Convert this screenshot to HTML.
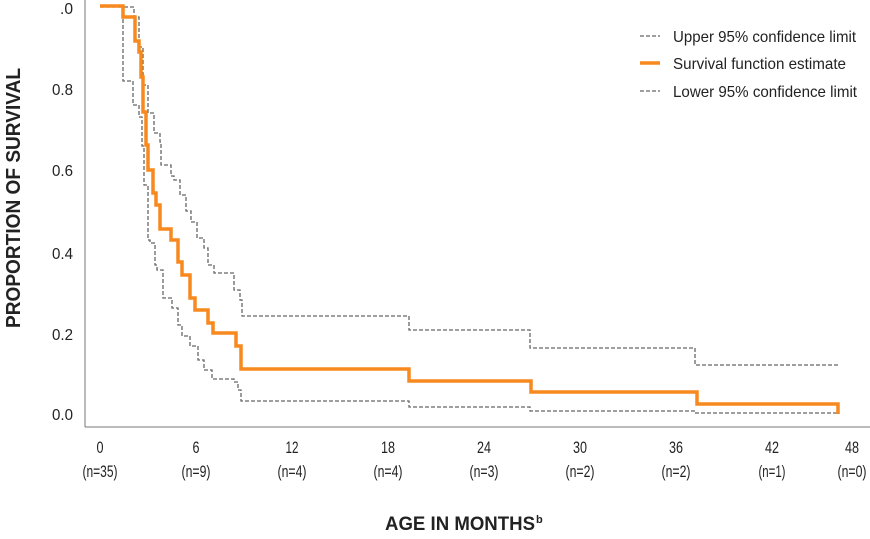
<!DOCTYPE html>
<html><head><meta charset="utf-8"><style>
html,body{margin:0;padding:0;background:#fff;}
svg text{font-family:"Liberation Sans Narrow","Liberation Sans",sans-serif;fill:#222;}
</style></head><body>
<svg width="870" height="534" viewBox="0 0 870 534" xmlns="http://www.w3.org/2000/svg">
<line x1="85" y1="0" x2="85" y2="427" stroke="#777" stroke-width="1"/>
<line x1="85" y1="427" x2="870" y2="427" stroke="#777" stroke-width="1"/>
<g font-size="16" text-anchor="end">
<text x="73" y="14" textLength="13" lengthAdjust="spacingAndGlyphs">.0</text>
<text x="73" y="95" textLength="21" lengthAdjust="spacingAndGlyphs">0.8</text>
<text x="73" y="176" textLength="21" lengthAdjust="spacingAndGlyphs">0.6</text>
<text x="73" y="259" textLength="21" lengthAdjust="spacingAndGlyphs">0.4</text>
<text x="73" y="340" textLength="21" lengthAdjust="spacingAndGlyphs">0.2</text>
<text x="73" y="420" textLength="21" lengthAdjust="spacingAndGlyphs">0.0</text>
</g>
<g font-size="17" text-anchor="middle">
<text x="100" y="453" textLength="7" lengthAdjust="spacingAndGlyphs">0</text><text x="100" y="477" textLength="35" lengthAdjust="spacingAndGlyphs">(n=35)</text>
<text x="196" y="453" textLength="7" lengthAdjust="spacingAndGlyphs">6</text><text x="196" y="477" textLength="29" lengthAdjust="spacingAndGlyphs">(n=9)</text>
<text x="292" y="453" textLength="13" lengthAdjust="spacingAndGlyphs">12</text><text x="292" y="477" textLength="29" lengthAdjust="spacingAndGlyphs">(n=4)</text>
<text x="388" y="453" textLength="14" lengthAdjust="spacingAndGlyphs">18</text><text x="388" y="477" textLength="29" lengthAdjust="spacingAndGlyphs">(n=4)</text>
<text x="484" y="453" textLength="14" lengthAdjust="spacingAndGlyphs">24</text><text x="484" y="477" textLength="29" lengthAdjust="spacingAndGlyphs">(n=3)</text>
<text x="580" y="453" textLength="14" lengthAdjust="spacingAndGlyphs">30</text><text x="580" y="477" textLength="29" lengthAdjust="spacingAndGlyphs">(n=2)</text>
<text x="676" y="453" textLength="14" lengthAdjust="spacingAndGlyphs">36</text><text x="676" y="477" textLength="29" lengthAdjust="spacingAndGlyphs">(n=2)</text>
<text x="772" y="453" textLength="14" lengthAdjust="spacingAndGlyphs">42</text><text x="772" y="477" textLength="27" lengthAdjust="spacingAndGlyphs">(n=1)</text>
<text x="852" y="453" textLength="14" lengthAdjust="spacingAndGlyphs">48</text><text x="852" y="477" textLength="29" lengthAdjust="spacingAndGlyphs">(n=0)</text>
</g>
<text x="460" y="530" font-size="19" font-weight="bold" text-anchor="middle" textLength="150" lengthAdjust="spacingAndGlyphs">AGE IN MONTHS</text>
<text x="536" y="523" font-size="11" font-weight="bold">b</text>
<text transform="translate(20,198) rotate(-90)" font-size="20" font-weight="bold" text-anchor="middle" textLength="260" lengthAdjust="spacingAndGlyphs">PROPORTION OF SURVIVAL</text>
<g fill="none" stroke="#666" stroke-width="1.3" stroke-dasharray="4,2">
<path d="M100,7 H134 V17 H139 V47 H143 V85 H148 V113 H154 V133 H160 V142 H161 V165 H171 V176 H174 V180 H180 V195 H186 V211 H191 V222 H197 V238 H204 V248 H208 V265 H214 V273 H234 V290 H240 V300 H242 V316 H409 V330 H530 V348 H695 V365 H838"/>
<path d="M123,7 V81 H133 V105 H139 V117 H142 V146 H144 V185 H148 V240 H150 V243 H155 V265 H157 V270 H163 V298 H172 V308 H178 V325 H182 V336 H190 V346 H198 V360 H204 V370 H212 V379 H234 V382 H238 V390 H241 V401 H409 V407 H530 V411 H695 V413 H838"/>
</g>
<path fill="none" stroke="#f7891f" stroke-width="3.5" d="M100,6 H123 V17 H135 V41 H139 V52 H141 V77 H143 V112 H146 V145 H148 V170 H153 V193 H156 V205 H160 V229 H171 V240 H178 V262 H182 V275 H190 V298 H195 V310 H208 V323 H213 V333 H236 V346 H241 V369 H409 V381 H531 V392 H697 V404 H838 V414"/>
<line x1="640" y1="36" x2="660" y2="36" stroke="#666" stroke-width="1.3" stroke-dasharray="4,2"/>
<line x1="640" y1="63" x2="660" y2="63" stroke="#f7891f" stroke-width="3.5"/>
<line x1="640" y1="91" x2="660" y2="91" stroke="#666" stroke-width="1.3" stroke-dasharray="4,2"/>
<g font-size="16">
<text x="673" y="42" textLength="183" lengthAdjust="spacingAndGlyphs">Upper 95% confidence limit</text>
<text x="673" y="69" textLength="173" lengthAdjust="spacingAndGlyphs">Survival function estimate</text>
<text x="673" y="97" textLength="184" lengthAdjust="spacingAndGlyphs">Lower 95% confidence limit</text>
</g>
</svg>
</body></html>
